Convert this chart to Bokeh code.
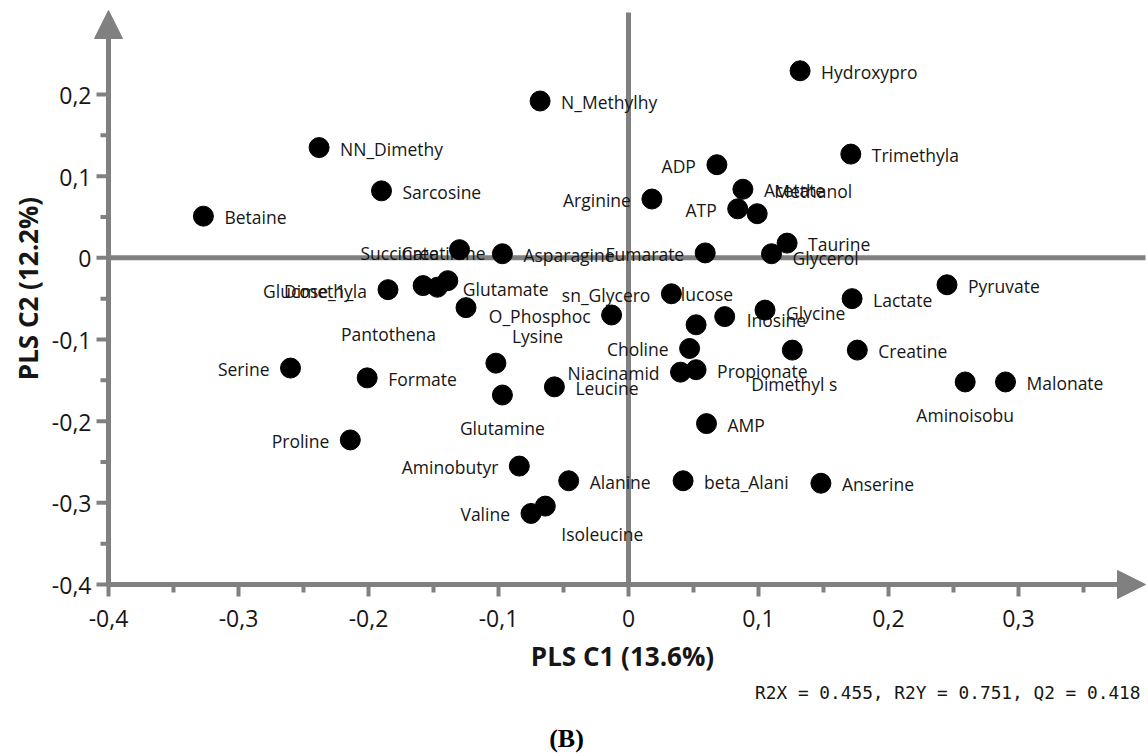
from bokeh.plotting import figure
from bokeh.models import ColumnDataSource, Range1d, Arrow, NormalHead, Label
from bokeh.embed import file_html
from bokeh.resources import INLINE
from bokeh.core.properties import value
import math

# ---------------- data ----------------
names = ["Hydroxypro", "N_Methylhy", "NN_Dimethy", "Trimethyla", "ADP", "Sarcosine",
         "Acetate", "Arginine", "Betaine", "ATP", "Methanol", "Taurine",
         "Glycerol", "Fumarate", "Succinate", "Asparagine", "Dimethyla", "Glucose_1_",
         "Creatinine", "Glutamate", "Pantothena", "O_Phosphoc", "sn_Glycero", "Glucose",
         "Inosine", "Glycine", "Choline", "Niacinamid", "Propionate", "Dimethyl s",
         "Lactate", "Pyruvate", "Creatine", "Aminoisobu", "Malonate", "Serine",
         "Formate", "Lysine", "Glutamine", "Leucine", "AMP", "Proline",
         "Aminobutyr", "Alanine", "beta_Alani", "Anserine", "Isoleucine", "Valine"]
pc1 = [0.132, -0.068, -0.238, 0.171, 0.068, -0.190,
       0.088, 0.018, -0.327, 0.084, 0.099, 0.122,
       0.110, 0.059, -0.130, -0.097, -0.185, -0.158,
       -0.147, -0.139, -0.125, -0.013, 0.033, 0.052,
       0.074, 0.105, 0.047, 0.040, 0.052, 0.126,
       0.172, 0.245, 0.176, 0.259, 0.290, -0.260,
       -0.201, -0.102, -0.097, -0.057, 0.060, -0.214,
       -0.084, -0.046, 0.042, 0.148, -0.064, -0.075]
pc2 = [0.229, 0.192, 0.135, 0.127, 0.114, 0.082,
       0.084, 0.072, 0.051, 0.060, 0.054, 0.018,
       0.005, 0.006, 0.010, 0.005, -0.039, -0.034,
       -0.036, -0.028, -0.061, -0.070, -0.044, -0.082,
       -0.072, -0.064, -0.111, -0.140, -0.137, -0.113,
       -0.050, -0.033, -0.113, -0.152, -0.152, -0.135,
       -0.147, -0.129, -0.168, -0.158, -0.203, -0.223,
       -0.255, -0.273, -0.273, -0.276, -0.304, -0.313]

x_ticks = [-0.4, -0.3, -0.2, -0.1, 0.0, 0.1, 0.2, 0.3]
x_tick_labels = ["-0,4", "-0,3", "-0,2", "-0,1", "0", "0,1", "0,2", "0,3"]
x_minor = [-0.35, -0.25, -0.15, -0.05, 0.05, 0.15, 0.25, 0.35]
y_ticks = [-0.4, -0.3, -0.2, -0.1, 0.0, 0.1, 0.2]
y_tick_labels = ["-0,4", "-0,3", "-0,2", "-0,1", "0", "0,1", "0,2"]
y_minor = [-0.35, -0.25, -0.15, -0.05, 0.05, 0.15]

x_title = "PLS C1 (13.6%)"
y_title = "PLS C2 (12.2%)"
stats_text = "R2X = 0.455, R2Y = 0.751, Q2 = 0.418"
panel_tag = "(B)"

# ---------------- label placement (style: align, dx px, dy px) ----------------
R = ("left", 21, 1)
L = ("right", -21, 1)
B = ("center", 0, 33)
placement = {
    "Hydroxypro": R, "N_Methylhy": R, "NN_Dimethy": R, "Trimethyla": R, "ADP": L,
    "Sarcosine": R, "Acetate": R, "Arginine": L, "Betaine": R, "ATP": L,
    "Methanol": ("left", 17, -23), "Taurine": R, "Glycerol": ("left", 21, 4),
    "Fumarate": L, "Succinate": ("right", -21, 3), "Asparagine": R, "Dimethyla": L,
    "Glucose_1_": ("left", -160, 5), "Creatinine": ("left", -36, -34),
    "Glutamate": ("left", 15, 8), "Pantothena": ("left", -125, 26), "O_Phosphoc": L,
    "sn_Glycero": L, "Glucose": ("right", 37, -31), "Inosine": ("left", 22, 3),
    "Glycine": ("left", 21, 3), "Choline": L, "Niacinamid": L, "Propionate": R,
    "Dimethyl s": ("center", 2, 34), "Lactate": R, "Pyruvate": R, "Creatine": R,
    "Aminoisobu": B, "Malonate": R, "Serine": L, "Formate": R,
    "Lysine": ("left", 16, -27), "Glutamine": B, "Leucine": R, "AMP": R, "Proline": L,
    "Aminobutyr": L, "Alanine": R, "beta_Alani": R, "Anserine": R,
    "Isoleucine": ("left", 16, 28), "Valine": L,
}

GRAY = "#808080"
INK = "#161616"
FONT = "Open Sans"

# ---------------- geometry (frame = whole canvas) ----------------
W, H = 1148, 756
PX_X, PX_Y = 1300.0, 816.7      # pixels per data unit
ORIGIN_PX = (108, 584)          # where (-0.4, -0.4) sits on the canvas
AX_X, AX_Y = -0.4, -0.4         # axes cross here
xs = AX_X - ORIGIN_PX[0] / PX_X
xe = xs + W / PX_X
ye = AX_Y + ORIGIN_PX[1] / PX_Y
ys = ye - H / PX_Y
x_tip = AX_X + 1037 / PX_X      # arrow tips
y_tip = AX_Y + 574 / PX_Y
zero_v_top = AX_Y + 572 / PX_Y

p = figure(width=W, height=H, output_backend="svg", toolbar_location=None,
           x_range=Range1d(xs, xe), y_range=Range1d(ys, ye),
           x_axis_location=None, y_axis_location=None,
           min_border=0)
p.outline_line_color = None
p.grid.visible = False
p.background_fill_color = "white"
p.border_fill_color = "white"

LW = 5
# zero reference lines
p.segment(x0=[AX_X], y0=[0.0], x1=[x_tip], y1=[0.0], line_color=GRAY, line_width=LW)
p.segment(x0=[0.0], y0=[AX_Y], x1=[0.0], y1=[zero_v_top], line_color=GRAY, line_width=LW)

# ticks
maj_x = 12 / PX_Y
min_x = 8 / PX_Y
maj_y = 12 / PX_X
min_y = 8 / PX_X
p.segment(x0=x_ticks, y0=[AX_Y] * len(x_ticks), x1=x_ticks, y1=[AX_Y - maj_x] * len(x_ticks),
          line_color=GRAY, line_width=4)
p.segment(x0=x_minor, y0=[AX_Y] * len(x_minor), x1=x_minor, y1=[AX_Y - min_x] * len(x_minor),
          line_color=GRAY, line_width=4)
p.segment(x0=[AX_X] * len(y_ticks), y0=y_ticks, x1=[AX_X - maj_y] * len(y_ticks), y1=y_ticks,
          line_color=GRAY, line_width=4)
p.segment(x0=[AX_X] * len(y_minor), y0=y_minor, x1=[AX_X - min_y] * len(y_minor), y1=y_minor,
          line_color=GRAY, line_width=4)

# axes with arrow heads
for (xa, ya, xb, yb) in ((AX_X, AX_Y, x_tip, AX_Y), (AX_X, AX_Y, AX_X, y_tip)):
    p.add_layout(Arrow(end=NormalHead(size=28, fill_color=GRAY, line_color=GRAY, line_width=1),
                       x_start=xa, y_start=ya, x_end=xb, y_end=yb,
                       line_color=GRAY, line_width=LW))

# tick labels
p.text(x=x_ticks, y=[AX_Y] * len(x_ticks), text=x_tick_labels, y_offset=34,
       text_align="center", text_baseline="middle", text_font=value(FONT),
       text_font_size="23px", text_color=INK)
p.text(x=[AX_X] * len(y_ticks), y=y_ticks, text=y_tick_labels, x_offset=-17, y_offset=1,
       text_align="right", text_baseline="middle", text_font=value(FONT),
       text_font_size="23px", text_color=INK)

# point labels grouped by alignment
groups = {}
for n, a, b in zip(names, pc1, pc2):
    al, dx, dy = placement[n]
    g = groups.setdefault(al, dict(x=[], y=[], name=[], dx=[], dy=[]))
    g["x"].append(a); g["y"].append(b); g["name"].append(n)
    g["dx"].append(dx); g["dy"].append(dy)
for al, g in groups.items():
    p.text(x="x", y="y", text="name", x_offset="dx", y_offset="dy",
           source=ColumnDataSource(g), text_align=al, text_baseline="middle",
           text_font=value(FONT), text_font_size="17.5px", text_color=INK)

# points on top
p.scatter(x=pc1, y=pc2, size=20, fill_color="black", line_color="black")

# titles and notes (screen units: from canvas bottom-left)
p.add_layout(Label(x=622, y=H - 655, x_units="screen", y_units="screen", text=x_title,
                   text_align="center", text_baseline="middle", text_font=FONT,
                   text_font_style="bold", text_font_size="26px", text_color=INK))
p.add_layout(Label(x=27, y=H - 288, x_units="screen", y_units="screen", text=y_title,
                   angle=math.pi / 2, text_align="center", text_baseline="middle",
                   text_font=FONT, text_font_style="bold", text_font_size="26px",
                   text_color=INK))
p.add_layout(Label(x=1140, y=H - 692, x_units="screen", y_units="screen", text=stats_text,
                   text_align="right", text_baseline="middle",
                   text_font="DejaVu Sans Mono", text_font_size="17.8px", text_color=INK))
p.add_layout(Label(x=566, y=H - 738, x_units="screen", y_units="screen", text=panel_tag,
                   text_align="center", text_baseline="middle",
                   text_font="Liberation Serif", text_font_style="bold",
                   text_font_size="26px", text_color="black"))

open("out.html", "w").write(file_html(p, INLINE))
